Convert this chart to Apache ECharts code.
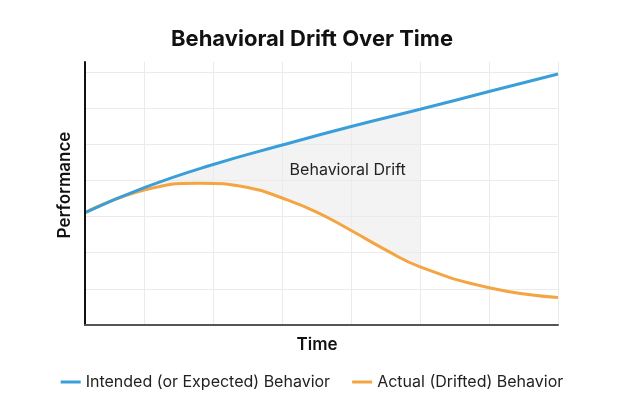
<!DOCTYPE html>
<html>
<head>
<meta charset="utf-8">
<script src="https://cdn.jsdelivr.net/npm/echarts@6/dist/echarts.min.js"></script>
<style>html,body{margin:0;padding:0;background:#fff;}#c{width:624px;height:416px;}</style>
</head>
<body>
<div id="c"></div>
<script>
// Data
var timeIntended = [0.14, 1, 2, 3, 4, 5, 6, 7];
var intended     = [3.104, 3.795, 4.436, 4.975, 5.486, 5.962, 6.454, 6.937];
var timeActual   = [0.14, 1, 1.8, 2.5, 3, 3.5, 4, 4.5, 5, 6, 7];
var actual       = [3.104, 3.731, 3.917, 3.800, 3.510, 3.123, 2.612, 2.078, 1.609, 1.031, 0.763];
var driftEnd     = 5;
var gridX        = [1, 2, 3, 4, 5, 6, 7];
var gridY        = [1, 2, 3, 4, 5, 6, 7];
var yMax         = 7.27;
var seriesNames  = ['Intended (or Expected) Behavior', 'Actual (Drifted) Behavior'];
var driftLabel   = 'Behavioral Drift';
var driftLabelAt = [3.95, 4.28];

var FONT = 'Inter, "Liberation Sans", Arial, sans-serif';
var tMin = timeActual[0], tMax = timeActual[timeActual.length - 1];
var cut = (driftEnd - tMin) / (tMax - tMin);

function pairs(ts, ys) { return ts.map(function (t, i) { return [t, ys[i]]; }); }
function cutFill(color) {
  return new echarts.graphic.LinearGradient(0, 0, 1, 0, [
    {offset: 0, color: color}, {offset: cut, color: color},
    {offset: cut, color: 'rgba(255,255,255,0)'}, {offset: 1, color: 'rgba(255,255,255,0)'}
  ]);
}

var SMOOTH = 0.5;
var gridLineData = gridX.map(function (v) { return {xAxis: v}; })
  .concat(gridY.map(function (v) { return {yAxis: v}; }));

var chart = echarts.init(document.getElementById('c'), null, {renderer: 'canvas'});
chart.setOption({
  animation: false,
  backgroundColor: '#ffffff',
  title: {
    text: 'Behavioral Drift Over Time',
    left: 'center', top: 23,
    textStyle: {fontFamily: FONT, fontSize: 22, fontWeight: 'bold', color: '#111'}
  },
  legend: {
    data: seriesNames,
    top: 369, left: 'center',
    itemWidth: 20, itemHeight: 3, itemGap: 22,
    icon: 'rect',
    textStyle: {fontFamily: FONT, fontSize: 16, color: '#222'}
  },
  grid: {left: 85, right: 66, top: 62, bottom: 91, containLabel: false},
  xAxis: {
    type: 'value', min: tMin, max: tMax, z: 10,
    name: 'Time', nameLocation: 'middle', nameGap: 11,
    nameTextStyle: {fontFamily: FONT, fontSize: 17, fontWeight: 600, color: '#111', verticalAlign: 'top', padding: [0, 9, 0, 0]},
    axisLine: {show: true, lineStyle: {color: '#555', width: 2}},
    axisTick: {show: false}, axisLabel: {show: false}, splitLine: {show: false}
  },
  yAxis: {
    type: 'value', min: 0, max: yMax, z: 10,
    name: 'Performance', nameLocation: 'middle', nameGap: 12,
    nameTextStyle: {fontFamily: FONT, fontSize: 17, fontWeight: 600, color: '#111', padding: [0, 0, 0, 17]},
    axisLine: {show: true, lineStyle: {color: '#111', width: 2}},
    axisTick: {show: false}, axisLabel: {show: false},
    splitLine: {show: false}
  },
  series: [
    {
      name: 'driftTop', type: 'line', data: pairs(timeIntended, intended),
      smooth: SMOOTH, symbol: 'none', silent: true, z: 1,
      lineStyle: {width: 0, opacity: 0},
      areaStyle: {color: cutFill('#f3f3f3'), opacity: 1}
    },
    {
      name: 'driftBottom', type: 'line', data: pairs(timeActual, actual),
      smooth: SMOOTH, symbol: 'none', silent: true, z: 2,
      lineStyle: {width: 0, opacity: 0},
      areaStyle: {color: cutFill('#ffffff'), opacity: 1},
      markLine: {
        silent: true, symbol: 'none', label: {show: false}, z: 3,
        lineStyle: {color: '#ebebeb', width: 1, type: 'solid', opacity: 1},
        emphasis: {disabled: true},
        data: gridLineData
      }
    },
    {
      name: seriesNames[1], type: 'line', data: pairs(timeActual, actual),
      smooth: SMOOTH, symbol: 'none', z: 4,
      itemStyle: {color: '#f4a542'},
      lineStyle: {color: '#f4a542', width: 3}
    },
    {
      name: seriesNames[0], type: 'line', data: pairs(timeIntended, intended),
      smooth: SMOOTH, symbol: 'none', z: 5,
      itemStyle: {color: '#3a9fd9'},
      lineStyle: {color: '#3a9fd9', width: 3},
      markPoint: {
        silent: true, symbol: 'circle', symbolSize: 1,
        itemStyle: {color: 'rgba(0,0,0,0)'},
        label: {show: true, position: 'inside', formatter: driftLabel,
                fontFamily: FONT, fontSize: 16, color: '#222'},
        data: [{coord: driftLabelAt}]
      }
    }
  ]
});
</script>
</body>
</html>
